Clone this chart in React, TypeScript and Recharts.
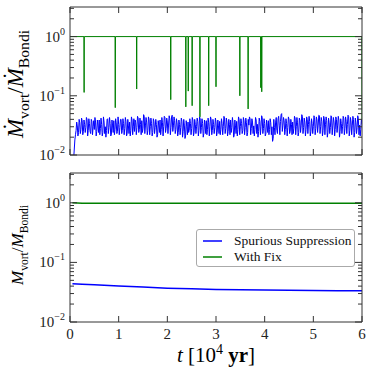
import { LineChart, Line, XAxis, YAxis, Legend } from "recharts";

// time axis, in 10^4 yr
const TIME_TICKS = [0, 1, 2, 3, 4, 5, 6];
const DECADES = [0.01, 0.1, 1];
const MINOR_TICKS = [
    0.02, 0.03, 0.04, 0.05, 0.06, 0.07, 0.08, 0.09,
    0.2, 0.3, 0.4, 0.5, 0.6, 0.7, 0.8, 0.9, 2, 3,
];
const EXPONENTS: Record<string, string> = { "0.01": "−2", "0.1": "−1", "1": "0" };

// top panel, spurious suppression: accretion rate
const RATE_FIRST_T = 0.08;
const RATE_FIRST_V = 0.01;
const RATE_T0 = 0.1;
const RATE_DT = 0.025;
const RATE_SPURIOUS = [
    0.018, 0.026, 0.031, 0.024, 0.035, 0.027, 0.038, 0.025, 0.033, 0.029, 0.040, 0.026, 0.034, 0.023, 0.037, 0.030, 0.027, 0.036, 0.025, 0.032,
    0.039, 0.028, 0.033, 0.024, 0.036, 0.030, 0.026, 0.041, 0.029, 0.034, 0.022, 0.031, 0.038, 0.027, 0.035, 0.025, 0.033, 0.029, 0.040, 0.026,
    0.034, 0.028, 0.037, 0.023, 0.031, 0.036, 0.026, 0.039, 0.030, 0.025, 0.035, 0.029, 0.042, 0.027, 0.033, 0.038, 0.028, 0.045, 0.031, 0.036,
    0.026, 0.040, 0.030, 0.034, 0.024, 0.037, 0.029, 0.033, 0.022, 0.031, 0.039, 0.027, 0.035, 0.030, 0.043, 0.028, 0.036, 0.032, 0.041, 0.029,
    0.047, 0.031, 0.038, 0.027, 0.035, 0.024, 0.033, 0.029, 0.037, 0.025, 0.032, 0.021, 0.030, 0.036, 0.026, 0.034, 0.028, 0.039, 0.024, 0.033,
    0.030, 0.037, 0.026, 0.041, 0.029, 0.034, 0.023, 0.032, 0.038, 0.027, 0.035, 0.030, 0.040, 0.026, 0.033, 0.029, 0.036, 0.024, 0.031, 0.037,
    0.027, 0.034, 0.030, 0.042, 0.028, 0.036, 0.025, 0.033, 0.039, 0.029, 0.035, 0.022, 0.031, 0.037, 0.027, 0.040, 0.030, 0.034, 0.026, 0.038,
    0.029, 0.035, 0.024, 0.032, 0.041, 0.028, 0.036, 0.031, 0.027, 0.039, 0.033, 0.025, 0.037, 0.030, 0.043, 0.028, 0.034, 0.023, 0.032, 0.038,
    0.027, 0.035, 0.030, 0.019, 0.029, 0.036, 0.026, 0.041, 0.031, 0.037, 0.050, 0.032, 0.038, 0.027, 0.034, 0.029, 0.040, 0.025, 0.033, 0.036,
    0.028, 0.042, 0.030, 0.035, 0.024, 0.038, 0.031, 0.045, 0.029, 0.036, 0.027, 0.040, 0.033, 0.037, 0.025, 0.034, 0.030, 0.043, 0.028, 0.039,
    0.032, 0.046, 0.030, 0.037, 0.026, 0.041, 0.033, 0.038, 0.024, 0.035, 0.029, 0.044, 0.031, 0.036, 0.027, 0.040, 0.032, 0.039, 0.025, 0.034,
    0.030, 0.042, 0.028, 0.037, 0.033, 0.045, 0.026, 0.036, 0.031, 0.040, 0.024, 0.035, 0.029, 0.041, 0.032, 0.027, 0.033,
];
// the same series read half a step later (the band is very dense)
const RATE_SPURIOUS_MID = [
    0.022, 0.036, 0.021, 0.040, 0.023, 0.042, 0.022, 0.039, 0.024, 0.043, 0.021, 0.041, 0.025, 0.040, 0.022, 0.038, 0.043, 0.021, 0.039, 0.024,
    0.022, 0.042, 0.021, 0.044, 0.023, 0.020, 0.040, 0.023, 0.043, 0.021, 0.039, 0.024, 0.022, 0.041, 0.023, 0.044, 0.022, 0.040, 0.023, 0.041,
    0.022, 0.043, 0.021, 0.040, 0.023, 0.021, 0.044, 0.022, 0.041, 0.039, 0.022, 0.045, 0.024, 0.042, 0.022, 0.024, 0.048, 0.023, 0.043, 0.022,
    0.044, 0.022, 0.042, 0.021, 0.041, 0.023, 0.040, 0.020, 0.038, 0.024, 0.022, 0.043, 0.021, 0.045, 0.024, 0.042, 0.023, 0.046, 0.022, 0.044,
    0.025, 0.044, 0.023, 0.041, 0.021, 0.039, 0.022, 0.042, 0.020, 0.040, 0.019, 0.038, 0.022, 0.024, 0.041, 0.022, 0.043, 0.021, 0.040, 0.023,
    0.042, 0.021, 0.044, 0.023, 0.041, 0.020, 0.039, 0.023, 0.022, 0.042, 0.021, 0.044, 0.022, 0.040, 0.023, 0.042, 0.021, 0.039, 0.023, 0.022,
    0.041, 0.022, 0.045, 0.023, 0.042, 0.021, 0.040, 0.022, 0.024, 0.043, 0.020, 0.039, 0.023, 0.021, 0.044, 0.022, 0.041, 0.023, 0.043, 0.022,
    0.042, 0.021, 0.040, 0.044, 0.022, 0.041, 0.023, 0.021, 0.043, 0.023, 0.020, 0.042, 0.022, 0.046, 0.023, 0.041, 0.021, 0.039, 0.024, 0.022,
    0.041, 0.022, 0.017, 0.040, 0.022, 0.043, 0.023, 0.045, 0.022, 0.048, 0.025, 0.043, 0.022, 0.041, 0.021, 0.044, 0.023, 0.040, 0.022, 0.023,
    0.045, 0.022, 0.043, 0.021, 0.042, 0.024, 0.048, 0.023, 0.042, 0.021, 0.044, 0.023, 0.045, 0.021, 0.041, 0.023, 0.046, 0.022, 0.044, 0.024,
    0.047, 0.023, 0.043, 0.021, 0.045, 0.022, 0.044, 0.020, 0.042, 0.023, 0.046, 0.022, 0.043, 0.021, 0.044, 0.024, 0.045, 0.020, 0.041, 0.023,
    0.045, 0.022, 0.044, 0.023, 0.047, 0.021, 0.043, 0.022, 0.045, 0.020, 0.042, 0.023, 0.046, 0.022, 0.021, 0.040,
];

// top panel, with fix: sits at 1 with short dips
const FIX_LEVEL = 1;
const DIP_T = [0.29, 0.93, 1.37, 2.07, 2.38, 2.43, 2.51, 2.67, 2.85, 3.0, 3.49, 3.66, 3.92, 3.94];
const DIP_V = [0.114, 0.063, 0.13, 0.086, 0.065, 0.12, 0.068, 0.044, 0.068, 0.142, 0.1, 0.06, 0.137, 0.117];
const DIP_HALF_WIDTH = 0.004;
const FIX_END_T = 6;
const FIX_END_V = 0.04;

// bottom panel, vortex mass
const MASS_T = [0.05, 0.25, 0.5, 1, 1.5, 2, 2.5, 3, 3.5, 4, 4.5, 5, 5.5, 6];
const MASS_SPURIOUS = [0.044, 0.043, 0.042, 0.040, 0.0385, 0.037, 0.036, 0.0352, 0.0347, 0.0343, 0.034, 0.0338, 0.0336, 0.0335];
const MASS_FIX = [1.0, 0.985, 0.98, 0.98, 0.98, 0.98, 0.98, 0.98, 0.98, 0.98, 0.98, 0.98, 0.98, 0.98];

const BLUE = "#0000ff";
const GREEN = "#008000";
const AXIS = "#333333";
const SERIF = "'Liberation Serif', 'DejaVu Serif', serif";
const Y_DOMAIN = [0.01, 3.16];

const rateSpurious: { t: number; v: number }[] = [{ t: RATE_FIRST_T, v: RATE_FIRST_V }];
RATE_SPURIOUS.forEach((v, i) => {
    const t = RATE_T0 + i * RATE_DT;
    rateSpurious.push({ t, v });
    if (i < RATE_SPURIOUS_MID.length) {
        rateSpurious.push({ t: t + RATE_DT / 2, v: RATE_SPURIOUS_MID[i] });
    }
});

const rateFix: { t: number; v: number }[] = [{ t: 0, v: FIX_LEVEL }];
DIP_T.forEach((t, i) => {
    rateFix.push({ t: t - DIP_HALF_WIDTH, v: FIX_LEVEL });
    rateFix.push({ t, v: DIP_V[i] });
    rateFix.push({ t: t + DIP_HALF_WIDTH, v: FIX_LEVEL });
});
rateFix.push({ t: FIX_END_T - DIP_HALF_WIDTH, v: FIX_LEVEL });
rateFix.push({ t: FIX_END_T, v: FIX_END_V });

const massSpurious = MASS_T.map((t, i) => ({ t, v: MASS_SPURIOUS[i] }));
const massFix = MASS_T.map((t, i) => ({ t, v: MASS_FIX[i] }));

const Y_TICKS = [...DECADES, ...MINOR_TICKS].sort((a, b) => a - b);

const LeftTick = (props: any) => {
    const { x, y, payload } = props;
    const major = DECADES.includes(payload.value);
    return (
        <g>
            <line x1={x} x2={x + (major ? 7 : 4)} y1={y} y2={y} stroke={AXIS} />
            {major && (
                <text x={x - 5} y={y + 5} textAnchor="end" fontFamily={SERIF} fontSize={15} fill="#222">
                    10
                    <tspan dy={-7} fontSize={10}>{EXPONENTS[String(payload.value)]}</tspan>
                </text>
            )}
        </g>
    );
};

const RightTick = (props: any) => {
    const { x, y, payload } = props;
    const major = DECADES.includes(payload.value);
    return <line x1={x} x2={x - (major ? 7 : 4)} y1={y} y2={y} stroke={AXIS} />;
};

const BottomTick = (props: any) => {
    const { x, y, payload, showLabel } = props;
    return (
        <g>
            <line x1={x} x2={x} y1={y} y2={y - 6} stroke={AXIS} />
            {showLabel && (
                <text x={x} y={y + 17} textAnchor="middle" fontFamily={SERIF} fontSize={15} fill="#222">
                    {payload.value}
                </text>
            )}
        </g>
    );
};

const TopTick = (props: any) => {
    const { x, y } = props;
    return <line x1={x} x2={x} y1={y} y2={y + 6} stroke={AXIS} />;
};

const YTitle = ({ cx, cy, size, dotted }: { cx: number; cy: number; size: number; dotted: boolean }) => {
    const sub = size * 0.68;
    const shift = size * 0.28;
    const m = dotted ? "Ṁ" : "M";
    return (
        <text
            transform={`translate(${cx},${cy}) rotate(-90)`}
            textAnchor="middle"
            fontFamily={SERIF}
            fontSize={size}
            fill="#000"
        >
            <tspan fontStyle="italic">{m}</tspan>
            <tspan fontSize={sub} dy={shift}>vort</tspan>
            <tspan dy={-shift}>/</tspan>
            <tspan fontStyle="italic">{m}</tspan>
            <tspan fontSize={sub} dy={shift}>Bondi</tspan>
        </text>
    );
};

const XTitle = () => (
    <text x={216} y={197} textAnchor="middle" fontFamily={SERIF} fontSize={21} fill="#000">
        <tspan fontStyle="italic">t</tspan>
        <tspan> [10</tspan>
        <tspan dy={-8} fontSize={14}>4</tspan>
        <tspan dy={8} fontWeight="bold"> yr</tspan>
        <tspan>]</tspan>
    </text>
);

const renderLegend = (props: any) => {
    const { payload } = props;
    return (
        <div
            style={{
                border: "1px solid #aaaaaa",
                borderRadius: 3,
                background: "#fff",
                padding: "3px 0 3px 6px",
                fontFamily: SERIF,
                fontSize: 13.5,
                color: "#111",
                boxSizing: "border-box",
                width: 159,
                height: 38,
            }}
        >
            {payload.map((entry: any) => (
                <div key={entry.value} style={{ display: "flex", alignItems: "center", height: 16 }}>
                    <svg width={19} height={4} style={{ marginRight: 12 }}>
                        <line x1={0} x2={19} y1={2} y2={2} stroke={entry.color} strokeWidth={1.5} />
                    </svg>
                    <span>{entry.value}</span>
                </div>
            ))}
        </div>
    );
};

const App = () => {
    return (
        <div style={{ position: "absolute", left: 0, top: 0, width: 374, height: 374, background: "#fff" }}>
            <div style={{ position: "absolute", left: 0, top: 0 }}>
                <LineChart width={374} height={165} margin={{ top: 6, right: 10, bottom: 5, left: 10 }}>
                    <XAxis
                        xAxisId="b"
                        type="number"
                        dataKey="t"
                        domain={[0, 6]}
                        allowDataOverflow
                        ticks={TIME_TICKS}
                        interval={0}
                        height={5}
                        tickSize={0}
                        tickMargin={0}
                        tickLine={false}
                        stroke={AXIS}
                        tick={(p: any) => <BottomTick {...p} showLabel={false} />}
                    />
                    <XAxis
                        xAxisId="top"
                        orientation="top"
                        type="number"
                        dataKey="t"
                        domain={[0, 6]}
                        allowDataOverflow
                        ticks={TIME_TICKS}
                        interval={0}
                        height={1}
                        tickSize={0}
                        tickMargin={0}
                        tickLine={false}
                        stroke={AXIS}
                        tick={(p: any) => <TopTick {...p} />}
                    />
                    <YAxis
                        yAxisId="l"
                        scale="log"
                        type="number"
                        domain={Y_DOMAIN}
                        allowDataOverflow
                        ticks={Y_TICKS}
                        interval={0}
                        width={60}
                        tickSize={0}
                        tickMargin={0}
                        tickLine={false}
                        stroke={AXIS}
                        tick={(p: any) => <LeftTick {...p} />}
                        label={{ content: () => <YTitle cx={23} cy={84} size={23} dotted /> }}
                    />
                    <YAxis
                        yAxisId="r"
                        orientation="right"
                        scale="log"
                        type="number"
                        domain={Y_DOMAIN}
                        allowDataOverflow
                        ticks={Y_TICKS}
                        interval={0}
                        width={2}
                        tickSize={0}
                        tickMargin={0}
                        tickLine={false}
                        stroke={AXIS}
                        tick={(p: any) => <RightTick {...p} />}
                    />
                    <Line
                        xAxisId="b"
                        yAxisId="l"
                        data={rateSpurious}
                        dataKey="v"
                        stroke={BLUE}
                        strokeWidth={1}
                        dot={false}
                        isAnimationActive={false}
                    />
                    <Line
                        xAxisId="b"
                        yAxisId="l"
                        data={rateFix}
                        dataKey="v"
                        stroke={GREEN}
                        strokeWidth={1}
                        dot={false}
                        isAnimationActive={false}
                    />
                </LineChart>
            </div>
            <div style={{ position: "absolute", left: 0, top: 165 }}>
                <LineChart width={374} height={209} margin={{ top: 7, right: 10, bottom: 12, left: 10 }}>
                    <XAxis
                        xAxisId="b"
                        type="number"
                        dataKey="t"
                        domain={[0, 6]}
                        allowDataOverflow
                        ticks={TIME_TICKS}
                        interval={0}
                        height={40}
                        tickSize={0}
                        tickMargin={0}
                        tickLine={false}
                        stroke={AXIS}
                        tick={(p: any) => <BottomTick {...p} showLabel />}
                        label={{ content: () => <XTitle /> }}
                    />
                    <XAxis
                        xAxisId="top"
                        orientation="top"
                        type="number"
                        dataKey="t"
                        domain={[0, 6]}
                        allowDataOverflow
                        ticks={TIME_TICKS}
                        interval={0}
                        height={1}
                        tickSize={0}
                        tickMargin={0}
                        tickLine={false}
                        stroke={AXIS}
                        tick={(p: any) => <TopTick {...p} />}
                    />
                    <YAxis
                        yAxisId="l"
                        scale="log"
                        type="number"
                        domain={Y_DOMAIN}
                        allowDataOverflow
                        ticks={Y_TICKS}
                        interval={0}
                        width={60}
                        tickSize={0}
                        tickMargin={0}
                        tickLine={false}
                        stroke={AXIS}
                        tick={(p: any) => <LeftTick {...p} />}
                        label={{ content: () => <YTitle cx={23} cy={80} size={17} dotted={false} /> }}
                    />
                    <YAxis
                        yAxisId="r"
                        orientation="right"
                        scale="log"
                        type="number"
                        domain={Y_DOMAIN}
                        allowDataOverflow
                        ticks={Y_TICKS}
                        interval={0}
                        width={2}
                        tickSize={0}
                        tickMargin={0}
                        tickLine={false}
                        stroke={AXIS}
                        tick={(p: any) => <RightTick {...p} />}
                    />
                    <Legend
                        layout="horizontal"
                        verticalAlign="middle"
                        align="center"
                        content={renderLegend}
                        wrapperStyle={{ position: "absolute", left: 196, top: 64, width: 159, height: 38 }}
                    />
                    <Line
                        xAxisId="b"
                        yAxisId="l"
                        data={massSpurious}
                        dataKey="v"
                        name="Spurious Suppression"
                        stroke={BLUE}
                        strokeWidth={1.5}
                        dot={false}
                        isAnimationActive={false}
                    />
                    <Line
                        xAxisId="b"
                        yAxisId="l"
                        data={massFix}
                        dataKey="v"
                        name="With Fix"
                        stroke={GREEN}
                        strokeWidth={1.5}
                        dot={false}
                        isAnimationActive={false}
                    />
                </LineChart>
            </div>
        </div>
    );
};

export default App;
